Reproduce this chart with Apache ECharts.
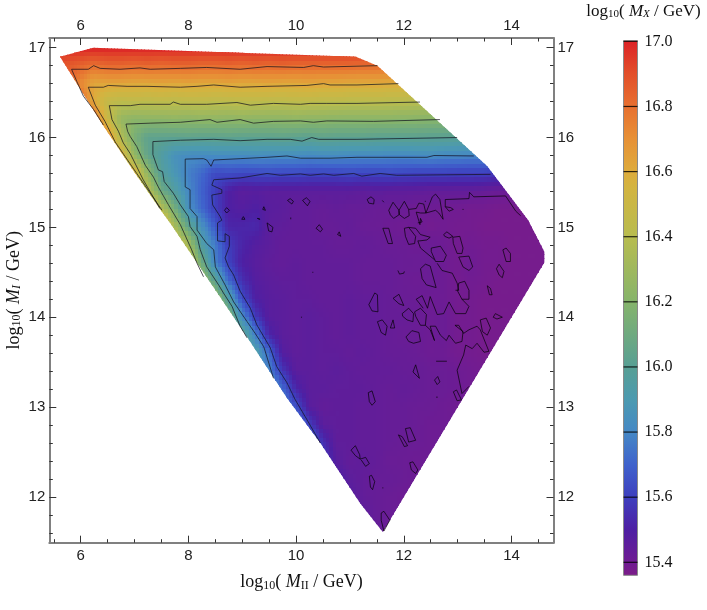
<!DOCTYPE html>
<html>
<head>
<meta charset="utf-8">
<style>html,body{margin:0;padding:0;background:#fff}#chart{width:707px;height:610px}</style>
<script src="https://cdn.jsdelivr.net/npm/echarts@6/dist/echarts.min.js"></script>
</head>
<body>
<div id="chart"></div>
<script>
var xTicks = [6, 8, 10, 12, 14];
var yTicks = [12, 13, 14, 15, 16, 17];
var xMinorTicks = [5.5, 6.5, 7, 7.5, 8.5, 9, 9.5, 10.5, 11, 11.5, 12.5, 13, 13.5, 14.5];
var yMinorTicks = [11.6, 11.8, 12.2, 12.4, 12.6, 12.8, 13.2, 13.4, 13.6, 13.8, 14.2, 14.4, 14.6, 14.8,
  15.2, 15.4, 15.6, 15.8, 16.2, 16.4, 16.6, 16.8, 17.0];
var barTicks = [15.4, 15.6, 15.8, 16.0, 16.2, 16.4, 16.6, 16.8, 17.0];

// colour scale
var barValues = [15.36, 15.4, 15.5, 15.6, 15.7, 15.8, 15.9, 16.0, 16.2, 16.4, 16.55, 16.6, 16.7, 16.8, 16.9, 17.0];
var barColors = ['#7c1d88', '#701c92', '#4e1fa3', '#3e3fbe', '#3f62cc', '#4588c5', '#4c9ab0', '#589f94', '#86b46b',
  '#b8bc4f', '#d3b440', '#deab3c', '#e79036', '#e76f30', '#e24e2a', '#dc2126'];

// outline of the scanned region
var hull = [[5.615, 16.9], [6.23, 17.0], [11.11, 16.9], [11.51, 16.8], [13.55, 15.68], [14.31, 15.08], [14.61, 14.73],
  [14.61, 14.61], [11.61, 11.61], [11.19, 11.93], [10.45, 12.6], [9.83, 13.1], [9.09, 13.78], [7.66, 15.05],
  [7.51, 15.17], [6.99, 15.62], [6.41, 16.14]];

// log10(M_X) on a 0.25 x 0.2 mesh, one row per M_I value
var rowY = [17.0, 16.8, 16.6, 16.4, 16.2, 16.0, 15.8, 15.6, 15.4, 15.2, 15.0, 14.8, 14.6, 14.4, 14.2, 14.0, 13.8, 13.6,
  13.4, 13.2, 13.0, 12.8, 12.6, 12.4, 12.2, 12.0, 11.8, 11.6];
var rowX0 = [5.5, 5.5, 5.75, 6, 6.25, 6.5, 6.75, 7, 7.25, 7.25, 7.5, 7.75, 8, 8.25, 8.5, 8.75, 9, 9.25,
  9.5, 9.5, 9.75, 10, 10.25, 10.5, 10.75, 11, 11.25, 11.5];
var rowZ = [
  [16.98,16.99,17,17,17,17,17,17,17,17,17,17,17,17,17,17,17,17,17,17,17,17,16.99,16.98,16.97],
  [16.9,16.87,16.84,16.8,16.83,16.83,16.82,16.83,16.82,16.83,16.83,16.82,16.82,16.83,16.82,16.83,16.82,16.83,16.82,16.82,16.82,16.82,16.82,16.81,16.81,16.8],
  [16.85,16.72,16.62,16.63,16.63,16.62,16.62,16.63,16.62,16.63,16.62,16.62,16.63,16.62,16.62,16.63,16.62,16.62,16.63,16.62,16.62,16.61,16.61,16.61,16.6,16.6],
  [16.85,16.6,16.46,16.43,16.44,16.43,16.44,16.43,16.44,16.44,16.43,16.43,16.44,16.44,16.43,16.43,16.44,16.44,16.43,16.43,16.42,16.42,16.42,16.41,16.41,16.4],
  [16.85,16.5,16.26,16.22,16.23,16.23,16.24,16.23,16.24,16.24,16.23,16.24,16.23,16.23,16.23,16.24,16.23,16.23,16.22,16.22,16.22,16.22,16.22,16.21,16.21,16.2,16.2],
  [16.75,16.38,16.15,16.03,16.03,16.03,16.04,16.03,16.03,16.04,16.03,16.03,16.03,16.04,16.03,16.02,16.04,16.03,16.03,16.03,16.02,16.02,16.02,16.02,16.01,16.01,16.0],
  [16.62,16.26,16.04,15.95,15.85,15.82,15.82,15.83,15.83,15.83,15.84,15.83,15.83,15.83,15.82,15.83,15.83,15.82,15.82,15.82,15.81,15.81,15.82,15.83,15.81,15.81,15.8,15.8],
  [16.6,16.24,15.98,15.88,15.78,15.72,15.63,15.64,15.63,15.63,15.64,15.63,15.63,15.62,15.62,15.62,15.63,15.62,15.62,15.63,15.62,15.61,15.61,15.61,15.6,15.6,15.6,15.58],
  [16.42,16.1,15.96,15.81,15.7,15.6,15.5,15.46,15.47,15.46,15.46,15.46,15.46,15.46,15.46,15.46,15.45,15.46,15.45,15.45,15.45,15.44,15.44,15.44,15.44,15.43,15.42,15.42],
  [16.7,16.4,16.14,15.84,15.72,15.6,15.5,15.48,15.5,15.47,15.46,15.44,15.44,15.43,15.44,15.43,15.43,15.42,15.42,15.42,15.4,15.41,15.4,15.4,15.39,15.39,15.38,15.38,15.38],
  [16.65,16.35,16.05,15.85,15.68,15.52,15.52,15.53,15.46,15.45,15.44,15.44,15.43,15.43,15.44,15.42,15.42,15.41,15.4,15.41,15.39,15.4,15.39,15.39,15.38,15.38,15.38,15.38,15.38],
  [16.5,16.35,15.95,15.77,15.59,15.52,15.48,15.46,15.44,15.44,15.44,15.44,15.43,15.43,15.44,15.43,15.42,15.42,15.41,15.42,15.41,15.39,15.4,15.39,15.39,15.38,15.38,15.38,15.38],
  [16.5,16.12,15.79,15.61,15.5,15.47,15.45,15.44,15.45,15.44,15.44,15.44,15.44,15.43,15.43,15.43,15.42,15.42,15.42,15.41,15.39,15.41,15.39,15.39,15.38,15.38,15.38,15.38],
  [16.3,16.02,15.72,15.55,15.48,15.46,15.45,15.45,15.44,15.44,15.44,15.44,15.43,15.43,15.43,15.42,15.41,15.42,15.41,15.39,15.4,15.39,15.38,15.38,15.38,15.38],
  [16.3,15.96,15.64,15.5,15.47,15.46,15.45,15.45,15.44,15.44,15.45,15.44,15.44,15.43,15.42,15.42,15.41,15.41,15.39,15.39,15.38,15.38,15.38,15.38],
  [16.2,15.82,15.58,15.47,15.46,15.45,15.46,15.45,15.44,15.45,15.44,15.44,15.43,15.43,15.42,15.41,15.42,15.39,15.39,15.38,15.38,15.38],
  [16.05,15.78,15.52,15.46,15.45,15.46,15.45,15.44,15.45,15.44,15.44,15.43,15.42,15.42,15.41,15.42,15.39,15.39,15.38,15.38],
  [15.95,15.72,15.48,15.45,15.46,15.45,15.45,15.44,15.45,15.44,15.43,15.43,15.42,15.41,15.41,15.39,15.39,15.38,15.38],
  [15.8,15.57,15.46,15.46,15.45,15.46,15.45,15.44,15.44,15.44,15.43,15.43,15.42,15.42,15.41,15.4,15.39],
  [15.9,15.72,15.52,15.46,15.46,15.45,15.45,15.45,15.44,15.43,15.44,15.43,15.42,15.42,15.41,15.4],
  [15.8,15.65,15.47,15.44,15.45,15.45,15.44,15.44,15.43,15.43,15.42,15.42,15.41,15.4],
  [15.8,15.6,15.46,15.45,15.45,15.44,15.44,15.43,15.43,15.42,15.41,15.41],
  [15.75,15.55,15.45,15.45,15.44,15.44,15.43,15.42,15.42,15.41,15.41],
  [15.6,15.47,15.44,15.45,15.44,15.42,15.42,15.41,15.41],
  [15.52,15.46,15.44,15.43,15.43,15.42,15.41],
  [15.48,15.44,15.43,15.42,15.41],
  [15.46,15.43,15.42],
  [15.44,15.41]
];

// contour lines, one list per level
var contour168 = [[6.42,16.14],[6.24,16.31],[6.05,16.46],[5.93,16.62],[5.83,16.76],[6.14,16.76],[6.24,16.80],[6.36,16.77],[6.73,16.76],[7.10,16.775],[7.29,16.76],[7.85,16.77],[8.34,16.78],[8.96,16.76],[9.46,16.79],[10.14,16.78],[10.32,16.80],[10.51,16.785],[11.51,16.80]];
var contour166 = [[7.51,15.19],[7.04,15.60],[6.64,15.95],[6.45,16.18],[6.27,16.36],[6.14,16.56],[6.42,16.56],[6.51,16.58],[6.86,16.57],[7.23,16.57],[7.85,16.56],[8.16,16.57],[8.47,16.585],[8.96,16.56],[9.46,16.57],[10.2,16.58],[10.51,16.6],[10.63,16.585],[11.13,16.585],[11.9,16.6]];
var contour164 = [[7.47,15.21],[7.16,15.53],[6.92,15.82],[6.79,15.94],[6.70,16.07],[6.58,16.20],[6.53,16.355],[6.92,16.355],[7.10,16.37],[7.66,16.37],[7.72,16.395],[7.85,16.37],[8.34,16.37],[8.90,16.39],[9.15,16.36],[9.58,16.38],[10.08,16.37],[10.26,16.38],[10.57,16.38],[11.13,16.38],[12.30,16.395]];
var contour162 = [[8.28,14.45],[8.16,14.60],[8.06,14.75],[7.85,15.03],[7.63,15.25],[7.44,15.45],[7.35,15.56],[7.20,15.69],[7.04,15.90],[6.92,16.01],[6.87,16.07],[6.84,16.15],[7.29,16.16],[7.85,16.17],[8.40,16.20],[8.53,16.17],[8.96,16.20],[9.21,16.16],[9.58,16.18],[10.08,16.185],[10.32,16.17],[10.57,16.185],[11.44,16.18],[12.67,16.20]];
var contour160 = [[9.09,13.77],[8.96,13.90],[8.81,14.12],[8.65,14.27],[8.56,14.36],[8.34,14.56],[8.22,14.75],[8.16,14.90],[8.03,15.01],[8.0,15.12],[7.85,15.25],[7.72,15.38],[7.55,15.51],[7.52,15.62],[7.44,15.64],[7.34,15.81],[7.34,15.955],[7.85,15.97],[8.47,15.98],[8.96,15.965],[9.46,15.98],[9.89,15.98],[10.11,15.96],[10.29,16.0],[10.42,15.98],[11.13,15.98],[12.99,16.0]];
var contour158 = [[9.58,13.32],[9.40,13.67],[9.24,13.82],[9.09,13.95],[8.84,14.17],[8.68,14.36],[8.50,14.56],[8.47,14.75],[8.34,14.82],[8.16,14.97],[8.16,15.12],[8.03,15.21],[8.03,15.42],[7.94,15.45],[7.94,15.76],[8.28,15.765],[8.34,15.75],[8.42,15.68],[8.47,15.75],[8.96,15.765],[9.46,15.78],[9.83,15.795],[10.08,15.77],[10.63,15.77],[11.13,15.78],[12.43,15.78],[12.56,15.80],[13.30,15.795]];
var contour156 = [[10.45,12.6],[10.2,12.86],[9.985,13.08],[9.83,13.27],[9.64,13.45],[9.52,13.66],[9.27,13.915],[9.15,14.10],[8.96,14.29],[8.84,14.47],[8.745,14.56],[8.68,14.66],[8.76,14.79],[8.76,14.90],[8.68,14.93],[8.68,14.84],[8.54,14.85],[8.54,15.05],[8.62,15.08],[8.59,15.12],[8.45,15.25],[8.435,15.36],[8.62,15.38],[8.62,15.42],[8.435,15.47],[8.47,15.53],[8.45,15.55],[8.96,15.55],[9.46,15.60],[9.71,15.58],[10.08,15.595],[10.26,15.58],[10.51,15.595],[10.70,15.58],[11.07,15.60],[11.22,15.57],[11.56,15.60],[11.87,15.58],[13.61,15.59]];

// the 15.4 level breaks up into many small pieces
var contour154 = [
  [[11.32,15.31],[11.39,15.34],[11.45,15.31],[11.44,15.26],[11.35,15.27],[11.32,15.31]],
  [[11.61,14.99],[11.72,14.99],[11.79,14.82],[11.71,14.82],[11.61,14.99]],
  [[11.72,15.19],[11.80,15.28],[11.91,15.19],[11.91,15.14],[11.81,15.10],[11.75,15.14],[11.72,15.19]],
  [[11.91,15.19],[12.01,15.29],[12.09,15.20],[12.10,15.13],[12.01,15.10],[11.92,15.14],[11.91,15.19]],
  [[12.09,15.20],[12.23,15.21],[12.28,15.27],[12.37,15.26],[12.41,15.16],[12.31,15.16],[12.23,15.17],[12.30,15.03],[12.31,15.10],[12.34,15.06],[12.26,15.05]],
  [[12.41,15.16],[12.53,15.34],[12.59,15.37],[12.67,15.31],[12.73,15.09],[12.65,15.16],[12.59,15.19],[12.41,15.16]],
  [[12.92,15.20],[12.84,15.18],[12.77,15.23],[12.77,15.31],[13.21,15.32],[13.22,15.39],[13.30,15.34],[13.89,15.35],[14.08,15.18],[14.17,15.13]],
  [[12.77,15.23],[12.87,15.22],[12.92,15.20]],
  [[12.01,14.99],[12.09,15.0],[12.22,14.90],[12.20,14.82],[12.09,14.81],[12.03,14.90],[12.01,14.99]],
  [[12.09,15.0],[12.22,14.99],[12.31,14.92],[12.49,14.89],[12.43,14.86],[12.30,14.85],[12.26,14.85],[12.31,14.77],[12.53,14.66],[12.57,14.64]],
  [[12.51,14.77],[12.68,14.79],[12.79,14.69],[12.74,14.62],[12.59,14.62],[12.51,14.73],[12.51,14.77]],
  [[12.74,14.92],[12.80,14.95],[12.91,14.90],[12.84,14.88],[12.76,14.90],[12.74,14.92]],
  [[12.91,14.89],[13.04,14.90],[13.10,14.77],[13.08,14.71],[12.99,14.71],[12.92,14.82],[12.91,14.89]],
  [[13.02,14.67],[13.21,14.68],[13.28,14.56],[13.21,14.52],[13.10,14.56],[13.02,14.67]],
  [[12.31,14.54],[12.40,14.59],[12.49,14.57],[12.60,14.33],[12.42,14.36],[12.34,14.43],[12.31,14.54]],
  [[12.62,14.60],[12.71,14.52],[12.90,14.49],[12.99,14.38],[13.02,14.30],[12.96,14.30]],
  [[13.02,14.38],[13.13,14.40],[13.21,14.30],[13.21,14.20],[13.08,14.20],[13.0,14.29],[13.02,14.38]],
  [[13.08,14.20],[13.21,14.12],[13.15,14.04],[12.96,14.04],[12.84,14.17],[12.74,14.04],[12.62,14.03],[12.49,14.23],[12.44,14.10],[12.34,14.24],[12.23,14.20],[12.36,14.10]],
  [[11.97,14.04],[12.09,14.10],[12.18,14.04],[12.17,13.95],[12.06,13.97],[11.98,14.01],[11.97,14.04]],
  [[12.20,14.06],[12.31,14.10],[12.42,14.03],[12.40,13.91],[12.31,13.91],[12.22,14.01],[12.20,14.06]],
  [[11.35,14.14],[11.46,14.27],[11.51,14.25],[11.52,14.06],[11.41,14.07],[11.35,14.14]],
  [[11.80,14.21],[11.91,14.255],[12.0,14.13],[11.91,14.15],[11.80,14.21]],
  [[11.51,13.95],[11.60,13.97],[11.69,13.9],[11.66,13.8],[11.58,13.83],[11.51,13.95]],
  [[11.75,13.88],[11.80,13.97],[11.83,13.88],[11.75,13.88]],
  [[11.89,14.52],[11.92,14.48],[12.0,14.49],[12.01,14.51]],
  [[12.04,13.78],[12.15,13.85],[12.28,13.83],[12.31,13.73],[12.18,13.71],[12.09,13.73],[12.04,13.78]],
  [[12.40,13.91],[12.49,13.86],[12.57,13.74],[12.49,13.90],[12.59,13.90],[12.68,13.80],[12.79,13.74],[12.84,13.80],[12.96,13.71],[13.08,13.73],[13.10,13.84],[12.95,13.91],[13.02,13.91],[13.11,13.82],[13.21,13.86],[13.36,13.90],[13.42,13.86],[13.58,13.62],[13.49,13.61],[13.36,13.71],[13.27,13.65],[13.15,13.69],[13.11,13.58],[12.99,13.41],[13.08,13.15],[13.21,13.23]],
  [[13.42,13.97],[13.53,13.99],[13.61,13.88],[13.55,13.80],[13.46,13.84],[13.42,13.97]],
  [[13.66,14.0],[13.70,14.04],[13.83,14.0],[13.73,13.98],[13.66,14.0]],
  [[13.55,14.35],[13.61,14.32],[13.64,14.25],[13.59,14.25],[13.55,14.35]],
  [[13.72,14.54],[13.77,14.59],[13.86,14.51],[13.83,14.44],[13.77,14.47],[13.72,14.54]],
  [[13.84,14.75],[13.90,14.77],[13.98,14.71],[13.98,14.62],[13.90,14.62],[13.84,14.75]],
  [[12.60,13.51],[12.80,13.51]],
  [[12.17,13.39],[12.22,13.47],[12.29,13.32],[12.17,13.39]],
  [[12.57,13.30],[12.63,13.34],[12.67,13.28],[12.62,13.25],[12.57,13.30]],
  [[12.60,13.11],[12.63,13.11]],
  [[11.34,13.16],[11.41,13.18],[11.47,13.06],[11.41,13.02],[11.36,13.06],[11.34,13.16]],
  [[12.92,13.17],[12.98,13.19],[13.07,13.08],[12.99,13.07],[12.92,13.17]],
  [[11.90,12.69],[11.97,12.67],[12.07,12.57],[12.01,12.56],[11.90,12.69]],
  [[12.03,12.76],[12.12,12.77],[12.22,12.63],[12.22,12.61],[12.09,12.61],[12.03,12.76]],
  [[12.11,12.38],[12.17,12.39],[12.26,12.30],[12.22,12.26],[12.14,12.30],[12.11,12.38]],
  [[11.02,12.52],[11.10,12.57],[11.18,12.47],[11.19,12.42],[11.10,12.46],[11.02,12.52]],
  [[11.19,12.42],[11.29,12.44],[11.36,12.37],[11.29,12.34],[11.21,12.41]],
  [[11.36,12.23],[11.40,12.24],[11.46,12.17],[11.42,12.08],[11.38,12.11],[11.36,12.23]],
  [[11.60,12.10],[11.62,12.10]],
  [[11.58,11.82],[11.63,11.84],[11.74,11.74],[11.63,11.62],[11.58,11.74],[11.58,11.82]],
  [[8.67,15.19],[8.71,15.22],[8.76,15.19],[8.71,15.16],[8.67,15.19]],
  [[8.99,15.09],[9.02,15.12],[9.05,15.09],[9.02,15.07],[8.99,15.09]],
  [[9.28,15.10],[9.31,15.12],[9.33,15.09],[9.31,15.07],[9.28,15.10]],
  [[9.38,15.20],[9.40,15.23],[9.43,15.19],[9.40,15.18],[9.38,15.20]],
  [[9.46,15.05],[9.57,15.0],[9.55,14.95],[9.49,14.96],[9.46,15.05]],
  [[9.84,15.30],[9.89,15.32],[9.95,15.29],[9.92,15.26],[9.84,15.30]],
  [[10.12,15.30],[10.19,15.33],[10.26,15.29],[10.21,15.24],[10.12,15.30]],
  [[10.37,14.99],[10.43,15.03],[10.49,14.98],[10.45,14.95],[10.37,14.99]],
  [[10.77,14.92],[10.80,14.95],[10.83,14.90],[10.80,14.88],[10.77,14.92]],
  [[9.90,15.11],[9.90,15.09]],
  [[10.30,14.50],[10.32,14.50]],
  [[10.09,14.0],[10.11,14.0]],
  [[11.60,15.30],[11.63,15.28]],
  [[12.39,15.29],[12.41,15.29]],
  [[13.09,15.20],[13.11,15.20]]
];

var chart = echarts.init(document.getElementById('chart'));

function hexRgb(h) {
  return [parseInt(h.substr(1, 2), 16), parseInt(h.substr(3, 2), 16), parseInt(h.substr(5, 2), 16)];
}
var barRgb = barColors.map(hexRgb);

function colorOf(v) {
  var n = barValues.length;
  if (v <= barValues[0]) return barColors[0];
  if (v >= barValues[n - 1]) return barColors[n - 1];
  for (var i = 1; i < n; i++) {
    if (v <= barValues[i]) {
      var t = (v - barValues[i - 1]) / (barValues[i] - barValues[i - 1]);
      var a = barRgb[i - 1], b = barRgb[i];
      return 'rgb(' + Math.round(a[0] + (b[0] - a[0]) * t) + ',' + Math.round(a[1] + (b[1] - a[1]) * t) + ',' + Math.round(a[2] + (b[2] - a[2]) * t) + ')';
    }
  }
}

// mesh value, columns past the end of a row take the row's last value
function meshZ(r, x) {
  var z = rowZ[r];
  var k = Math.round((x - rowX0[r]) / 0.25);
  return z[Math.max(0, Math.min(z.length - 1, k))];
}

var cells = [];
rowZ.forEach(function (z, r) {
  if (r === rowZ.length - 1) return;
  var x0 = Math.min(rowX0[r], rowX0[r + 1]) - 0.25;
  var x1 = Math.max(rowX0[r] + (z.length - 1) * 0.25, rowX0[r + 1] + (rowZ[r + 1].length - 1) * 0.25) + 0.25;
  for (var x = x0; x < x1; x += 0.25) cells.push([x, r]);
});

var SUB = 4;
function renderCell(params, api) {
  var x = api.value(0), r = api.value(1);
  var yTop = rowY[r], yBot = rowY[r + 1];
  var z00 = meshZ(r, x), z10 = meshZ(r, x + 0.25), z01 = meshZ(r + 1, x), z11 = meshZ(r + 1, x + 0.25);
  var children = [];
  for (var i = 0; i < SUB; i++) {
    for (var j = 0; j < SUB; j++) {
      var u = (i + 0.5) / SUB, w = (j + 0.5) / SUB;
      var p0 = api.coord([x + 0.25 * i / SUB, yTop + (yBot - yTop) * j / SUB]);
      var p1 = api.coord([x + 0.25 * (i + 1) / SUB, yTop + (yBot - yTop) * (j + 1) / SUB]);
      var v = z00 * (1 - u) * (1 - w) + z10 * u * (1 - w) + z01 * (1 - u) * w + z11 * u * w;
      // whole pixels, so neighbouring blocks do not leave seams
      var px = Math.floor(p0[0]), py = Math.floor(p0[1]);
      children.push({
        type: 'rect',
        shape: { x: px, y: py, width: Math.ceil(p1[0]) - px, height: Math.ceil(p1[1]) - py },
        style: { fill: colorOf(v) }
      });
    }
  }
  return {
    type: 'group',
    clipPath: { type: 'polygon', shape: { points: hull.map(function (p) { return api.coord(p); }) } },
    children: children
  };
}

function renderBar(params, api) {
  var top = api.coord([0, barValues[barValues.length - 1] + 0.002]);
  var bot = api.coord([1, barValues[0]]);
  var stops = barValues.map(function (v, i) {
    return { offset: (17 - v) / (17 - barValues[0]), color: barColors[i] };
  }).reverse();
  return {
    type: 'rect',
    shape: { x: top[0], y: top[1], width: bot[0] - top[0], height: bot[1] - top[1] },
    style: { fill: new echarts.graphic.LinearGradient(0, 0, 0, 1, stops), stroke: '#8a8a8a', lineWidth: 1 }
  };
}

function renderBarTick(params, api) {
  var a = api.coord([0, api.value(0)]), b = api.coord([1, api.value(0)]);
  return { type: 'line', shape: { x1: a[0], y1: a[1], x2: b[0], y2: b[1] }, style: { stroke: 'rgba(0,0,0,0.8)', lineWidth: 1.2 } };
}

var serif = '"Liberation Serif", serif';
var tickFont = { fontFamily: '"Liberation Sans", sans-serif', fontSize: 15, color: '#222' };
var nameRich = {
  a: { fontFamily: serif, fontSize: 18, color: '#111' },
  s: { fontFamily: serif, fontSize: 12, color: '#111', verticalAlign: 'bottom', padding: [7, 0, 0, 0] },
  t: { fontFamily: serif, fontSize: 12, fontStyle: 'italic', color: '#111', verticalAlign: 'bottom', padding: [7, 0, 0, 0] },
  i: { fontFamily: serif, fontSize: 18, fontStyle: 'italic', color: '#111' }
};
var FRAME = { left: 49.3, top: 38, width: 504.2, height: 504.7, outerBoundsMode: 'none' };
var X_RANGE = { min: 5.416, max: 14.78 };
var Y_RANGE = { min: 11.49, max: 17.108 };

function mainX(position, margin, extra) {
  return Object.assign({
    type: 'value', position: position, gridIndex: 0, min: X_RANGE.min, max: X_RANGE.max, splitLine: { show: false },
    axisLine: { show: true, onZero: false, lineStyle: { color: '#808080', width: 2 } },
    axisTick: { inside: true, length: 7, customValues: xTicks, lineStyle: { color: '#333', width: 1 } },
    axisLabel: Object.assign({ margin: margin, customValues: xTicks, showMinLabel: true, showMaxLabel: true }, tickFont)
  }, extra || {});
}
function mainY(position, extra) {
  return Object.assign({
    type: 'value', position: position, gridIndex: 0, min: Y_RANGE.min, max: Y_RANGE.max, splitLine: { show: false },
    axisLine: { show: true, onZero: false, lineStyle: { color: '#808080', width: 2 } },
    axisTick: { inside: true, length: 7, customValues: yTicks, lineStyle: { color: '#333', width: 1 } },
    axisLabel: Object.assign({ margin: 4, customValues: yTicks }, tickFont)
  }, extra || {});
}
function minorX(position) {
  return {
    type: 'value', position: position, gridIndex: 1, min: X_RANGE.min, max: X_RANGE.max, splitLine: { show: false },
    axisLine: { show: false, onZero: false }, axisLabel: { show: false },
    axisTick: { inside: true, length: 3.5, customValues: xMinorTicks, lineStyle: { color: '#333', width: 1 } }
  };
}
function minorY(position) {
  return {
    type: 'value', position: position, gridIndex: 1, min: Y_RANGE.min, max: Y_RANGE.max, splitLine: { show: false },
    axisLine: { show: false, onZero: false }, axisLabel: { show: false },
    axisTick: { inside: true, length: 3.5, customValues: yMinorTicks, lineStyle: { color: '#333', width: 1 } }
  };
}

function contourSeries(points, dark) {
  return {
    type: 'line', xAxisIndex: 0, yAxisIndex: 0, data: points, symbol: 'none', silent: true, animation: false, z: 3,
    lineStyle: { color: dark ? 'rgba(0,0,0,0.85)' : 'rgba(20,20,30,0.72)', width: dark ? 0.8 : 1 }
  };
}

var series = [
  { type: 'custom', xAxisIndex: 0, yAxisIndex: 0, data: cells, renderItem: renderCell, silent: true, animation: false, z: 2 },
  { type: 'custom', xAxisIndex: 4, yAxisIndex: 4, data: [[0]], renderItem: renderBar, silent: true, animation: false, z: 2 },
  { type: 'custom', xAxisIndex: 4, yAxisIndex: 4, data: barTicks.map(function (v) { return [v]; }), renderItem: renderBarTick, silent: true, animation: false, z: 3 }
];
[contour168, contour166, contour164, contour162, contour160, contour158, contour156].forEach(function (c) {
  series.push(contourSeries(c, false));
});
contour154.forEach(function (c) { series.push(contourSeries(c, true)); });

var option = {
  backgroundColor: '#fff',
  animation: false,
  grid: [
    FRAME,
    FRAME,
    { left: 623.5, top: 40.7, width: 14, height: 534.3, outerBoundsMode: 'none' }
  ],
  xAxis: [
    mainX('bottom', 6, {
      name: '{a|log}{s|10}{a|( }{i|M}{s|II}{a| / GeV)}', nameLocation: 'middle', nameGap: 30,
      nameTextStyle: { rich: nameRich }
    }),
    mainX('top', 5),
    minorX('bottom'),
    minorX('top'),
    { type: 'value', gridIndex: 2, min: 0, max: 1, show: false }
  ],
  yAxis: [
    mainY('left', {
      name: '{a|log}{s|10}{a|( }{i|M}{t|I}{a| / GeV)}', nameLocation: 'middle', nameGap: 26, nameRotate: 90,
      nameMoveOverlap: false,
      nameTextStyle: { rich: nameRich }
    }),
    mainY('right'),
    minorY('left'),
    minorY('right'),
    {
      type: 'value', gridIndex: 2, position: 'right', min: 15.361, max: 17.002, splitLine: { show: false },
      name: '{a|log}{s|10}{a|( }{i|M}{t|X}{a| / GeV)}', nameLocation: 'end', nameGap: 21,
      nameTextStyle: { padding: [0, 0, 0, 40], rich: { a: { fontFamily: serif, fontSize: 17, color: '#111' }, s: { fontFamily: serif, fontSize: 11, color: '#111', verticalAlign: 'bottom', padding: [6, 0, 0, 0] }, t: { fontFamily: serif, fontSize: 11, fontStyle: 'italic', color: '#111', verticalAlign: 'bottom', padding: [6, 0, 0, 0] }, i: { fontFamily: serif, fontSize: 17, fontStyle: 'italic', color: '#111' } } },
      axisLine: { show: false },
      axisTick: { length: 5, customValues: barTicks, lineStyle: { color: '#aaa', width: 1 } },
      axisLabel: { margin: 7, customValues: barTicks, fontFamily: serif, fontSize: 16, color: '#111', formatter: function (v) { return v.toFixed(1); } }
    }
  ],
  series: series
};
chart.setOption(option, true);
</script>
</body>
</html>
